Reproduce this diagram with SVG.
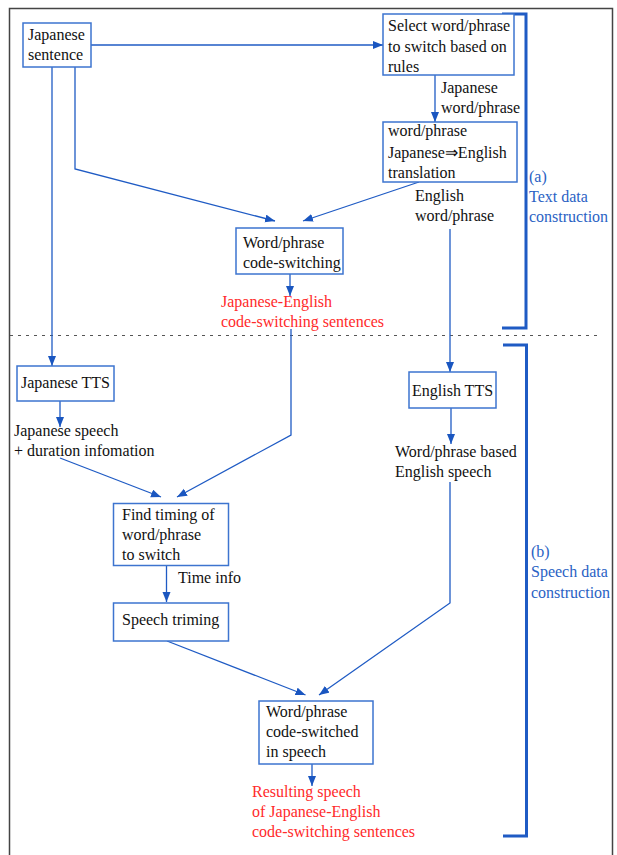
<svg xmlns="http://www.w3.org/2000/svg" width="617" height="855" viewBox="0 0 617 855">
<style>
text{font-family:"Liberation Serif","Times New Roman",serif;font-size:16px;fill:#111}
.box{fill:#fff;stroke:#3d74cf;stroke-width:1.5}
.red{fill:#ff2a2a}
.blue{fill:#2a62c4}
.ln{fill:none;stroke:#1f5bc4;stroke-width:1.3}
.br{fill:none;stroke:#1f5bc4;stroke-width:3}
</style>
<defs>
<marker id="ah" markerUnits="userSpaceOnUse" markerWidth="11" markerHeight="10" refX="10" refY="4" orient="auto">
<path d="M0,0 L10,4 L0,8 z" fill="#1a56c0"/>
</marker>
</defs>
<rect x="0" y="0" width="617" height="855" fill="#fff"/>
<path d="M9.5,870 V8.5 H612.5 V870" fill="none" stroke="#444" stroke-width="1.5"/>
<line x1="10" y1="335.5" x2="598" y2="335.5" stroke="#555" stroke-width="1.2" stroke-dasharray="3,5"/>

<g id="brackets">
<path class="br" d="M502,14 H526 V328 H502"/>
<path class="br" d="M503,345 H526.5 V836 H503"/>
<text class="blue" x="529" y="182">(a)</text>
<text class="blue" x="529" y="202">Text data</text>
<text class="blue" x="529" y="222">construction</text>
<text class="blue" x="531" y="557">(b)</text>
<text class="blue" x="531" y="577">Speech data</text>
<text class="blue" x="531" y="598">construction</text>
</g>

<g id="connectors">
<line class="ln" x1="91" y1="45" x2="383" y2="45" marker-end="url(#ah)"/>
<line class="ln" x1="435" y1="75" x2="435" y2="122" marker-end="url(#ah)"/>
<line class="ln" x1="419" y1="182" x2="303" y2="221" marker-end="url(#ah)"/>
<polyline class="ln" points="75,67 75,169 275,221" marker-end="url(#ah)"/>
<line class="ln" x1="52" y1="67" x2="52" y2="366" marker-end="url(#ah)"/>
<line class="ln" x1="290" y1="274" x2="290" y2="296" marker-end="url(#ah)"/>
<polyline class="ln" points="291,329 291,435 177,497" marker-end="url(#ah)"/>
<line class="ln" x1="60" y1="458" x2="161" y2="497" marker-end="url(#ah)"/>
<line class="ln" x1="450" y1="229" x2="450" y2="372" marker-end="url(#ah)"/>
<line class="ln" x1="451" y1="408" x2="451" y2="444" marker-end="url(#ah)"/>
<polyline class="ln" points="450,482 450,603 319,695" marker-end="url(#ah)"/>
<line class="ln" x1="60" y1="401" x2="60" y2="427" marker-end="url(#ah)"/>
<line class="ln" x1="166.5" y1="565" x2="166.5" y2="602" marker-end="url(#ah)"/>
<line class="ln" x1="167" y1="641" x2="305.5" y2="695" marker-end="url(#ah)"/>
<line class="ln" x1="312" y1="764" x2="312" y2="786" marker-end="url(#ah)"/>
</g>

<g id="japanese-sentence">
<rect class="box" x="23" y="23" width="68" height="44"/>
<text x="28" y="40">Japanese</text>
<text x="28" y="60">sentence</text>
</g>

<g id="select">
<rect class="box" x="383" y="14" width="131" height="61"/>
<text x="388" y="31">Select word/phrase</text>
<text x="388" y="51.5">to switch based on</text>
<text x="388" y="71.5">rules</text>
</g>

<g id="label-japanese-wp">
<text x="441" y="93">Japanese</text>
<text x="441" y="113">word/phrase</text>
</g>

<g id="translation">
<rect class="box" x="383" y="122" width="134" height="60"/>
<text x="388" y="136">word/phrase</text>
<text x="388" y="157.5">Japanese⇒English</text>
<text x="388" y="177.5">translation</text>
</g>

<g id="label-english-wp">
<text x="415" y="201">English</text>
<text x="415" y="221">word/phrase</text>
</g>

<g id="code-switching">
<rect class="box" x="236" y="228" width="107" height="46"/>
<text x="243" y="248">Word/phrase</text>
<text x="243" y="268">code-switching</text>
</g>

<g id="cs-sentences">
<text class="red" x="221" y="307">Japanese-English</text>
<text class="red" x="221" y="327">code-switching sentences</text>
</g>

<g id="japanese-tts">
<rect class="box" x="17" y="366" width="97" height="35"/>
<text x="21" y="387.5">Japanese TTS</text>
</g>

<g id="japanese-speech">
<text x="14" y="436">Japanese speech</text>
<text x="14" y="456">+ duration infomation</text>
</g>

<g id="english-tts">
<rect class="box" x="409" y="372" width="87" height="36"/>
<text x="412" y="396">English TTS</text>
</g>

<g id="english-speech">
<text x="395" y="457">Word/phrase based</text>
<text x="395" y="477">English speech</text>
</g>

<g id="find-timing">
<rect class="box" x="113.5" y="503.5" width="115" height="62"/>
<text x="122" y="520">Find timing of</text>
<text x="122" y="540">word/phrase</text>
<text x="122" y="560">to switch</text>
</g>

<g id="time-info">
<text x="178" y="583">Time info</text>
</g>

<g id="speech-triming">
<rect class="box" x="113.5" y="603" width="115" height="38"/>
<text x="122" y="625">Speech triming</text>
</g>

<g id="code-switched-speech">
<rect class="box" x="259" y="701" width="114" height="63"/>
<text x="266" y="717">Word/phrase</text>
<text x="266" y="737">code-switched</text>
<text x="266" y="757">in speech</text>
</g>

<g id="result">
<text class="red" x="252" y="797">Resulting speech</text>
<text class="red" x="252" y="817">of Japanese-English</text>
<text class="red" x="252" y="837">code-switching sentences</text>
</g>
</svg>
